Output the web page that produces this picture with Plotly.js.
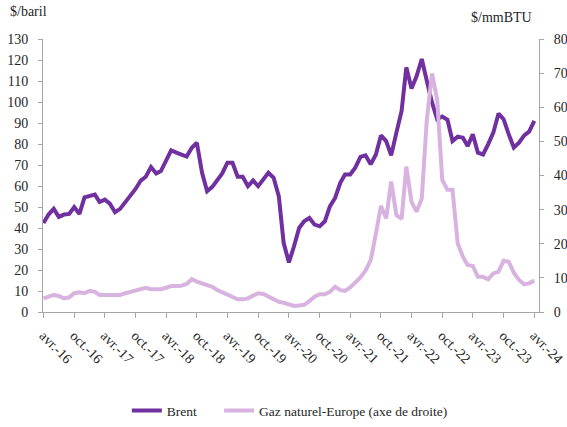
<!DOCTYPE html>
<html>
<head>
<meta charset="utf-8">
<script src="https://cdn.plot.ly/plotly-3.0.1.min.js"></script>
<style>html,body{margin:0;padding:0;background:#fff;overflow:hidden;}#chart{width:567px;height:427px;}</style>
</head>
<body>
<div id="chart"></div>
<script>
// Monthly series, avr. 2016 -> avr. 2024
var startYear = 2016, startMonth = 4, nMonths = 97;
var months = [];
for (var k = 0; k < nMonths; k++) {
  var m = startMonth - 1 + k;
  var yy = startYear + Math.floor(m / 12);
  var mm = (m % 12) + 1;
  months.push(yy + '-' + (mm < 10 ? '0' + mm : mm) + '-01');
}

var brent = [42.4, 46.4, 49.1, 45.3, 46.4, 46.7, 50.0, 46.7, 54.6, 55.4,
             55.9, 52.4, 53.5, 51.6, 47.5, 49.1, 52.2, 55.9, 58.6, 62.6,
             64.4, 69.0, 66.0, 67.1, 72.2, 77.0, 75.9, 75.0, 74.0, 78.2,
             80.6, 66.3, 57.5, 59.6, 63.4, 66.0, 71.1, 71.1, 64.4, 64.4,
             59.9, 62.6, 59.9, 63.1, 66.3, 63.9, 55.1, 32.8, 23.6, 31.2,
             40.0, 43.2, 44.8, 41.6, 40.8, 43.2, 50.3, 54.3, 61.5, 65.5,
             65.5, 68.7, 73.9, 74.6, 70.3, 75.0, 84.1, 81.4, 74.6, 85.4,
             95.7, 116.5, 106.4, 112.2, 120.5, 110.1, 99.8, 91.8, 93.1, 91.5,
             81.4, 83.5, 83.0, 79.0, 84.6, 75.9, 75.0, 79.8, 85.4, 94.5,
             91.8, 84.6, 78.3, 80.6, 84.1, 85.9, 91.0];

var gazEurope = [4.0, 4.5, 5.0, 4.7, 4.0, 4.3, 5.5, 5.8, 5.5, 6.2,
                 5.9, 5.0, 5.0, 5.0, 5.0, 5.0, 5.5, 5.9, 6.2, 6.6,
                 7.1, 6.7, 6.7, 6.7, 7.1, 7.6, 7.6, 7.7, 8.2, 9.6,
                 8.9, 8.4, 8.1, 7.4, 6.4, 5.7, 5.2, 4.5, 3.7, 3.7,
                 4.0, 4.8, 5.5, 5.3, 4.5, 3.5, 3.0, 2.7, 2.3, 1.8,
                 1.9, 2.1, 3.2, 4.5, 5.2, 5.2, 5.9, 7.4, 6.4, 6.2,
                 7.2, 8.7, 10.1, 12.1, 15.2, 23.0, 31.1, 27.4, 38.2, 28.4,
                 27.3, 42.6, 32.3, 29.4, 33.3, 56.3, 69.9, 62.1, 38.7, 35.8,
                 35.8, 20.1, 16.2, 13.8, 13.5, 10.3, 10.3, 9.6, 11.3, 11.8,
                 15.0, 14.7, 11.5, 9.4, 8.1, 8.4, 9.2];

var tickDates = ['2016-04-01','2016-10-01','2017-04-01','2017-10-01','2018-04-01','2018-10-01',
                 '2019-04-01','2019-10-01','2020-04-01','2020-10-01','2021-04-01','2021-10-01',
                 '2022-04-01','2022-10-01','2023-04-01','2023-10-01','2024-04-01'];
var tickLabels = ['avr.-16','oct.-16','avr.-17','oct.-17','avr.-18','oct.-18',
                  'avr.-19','oct.-19','avr.-20','oct.-20','avr.-21','oct.-21',
                  'avr.-22','oct.-22','avr.-23','oct.-23','avr.-24'];

var FONT = 'Liberation Serif';
var TXT = '#262626';
var AX = '#a6a6a6';

var traces = [
  {x: months, y: brent, type: 'scatter', mode: 'lines', name: 'Brent',
   line: {color: '#7030A0', width: 4}, yaxis: 'y', legend: 'legend'},
  {x: months, y: gazEurope, type: 'scatter', mode: 'lines', name: 'Gaz naturel-Europe (axe de droite)',
   line: {color: '#D9B3E0', width: 4}, yaxis: 'y2', legend: 'legend2'}
];

var legendFont = {family: FONT, size: 13.5, color: TXT};

var layout = {
  width: 567, height: 427, autosize: false,
  margin: {l: 43, r: 28, t: 39, b: 115, pad: 0, autoexpand: false},
  paper_bgcolor: '#fff', plot_bgcolor: '#fff',
  font: {family: FONT, size: 14, color: TXT},
  showlegend: true,
  legend: {orientation: 'h', x: 0.169, xanchor: 'left', y: -0.305, yanchor: 'top', font: legendFont},
  legend2: {orientation: 'h', x: 0.355, xanchor: 'left', y: -0.305, yanchor: 'top', font: legendFont},
  xaxis: {type: 'date', range: ['2016-03-29', '2024-04-29'], automargin: false,
          tickmode: 'array', tickvals: tickDates, ticktext: tickLabels,
          tickangle: 45, ticks: 'outside', ticklen: 5, tickcolor: AX, ticklabelstandoff: 4,
          showline: true, linecolor: AX, linewidth: 1, showgrid: false, zeroline: false,
          tickfont: {family: FONT, size: 14, color: TXT}},
  yaxis: {range: [0, 130], dtick: 10, tick0: 0, ticks: 'outside', ticklen: 4, tickcolor: AX,
          automargin: false, ticklabelstandoff: 7,
          showline: true, linecolor: AX, linewidth: 1, showgrid: false, zeroline: false,
          tickfont: {family: FONT, size: 14, color: TXT}},
  yaxis2: {range: [0, 80], dtick: 10, tick0: 0, overlaying: 'y', side: 'right',
           automargin: false, ticklabelstandoff: 7,
           ticks: 'outside', ticklen: 4, tickcolor: AX,
           showline: true, linecolor: AX, linewidth: 1, showgrid: false, zeroline: false,
           tickfont: {family: FONT, size: 14, color: TXT}},
  annotations: [
    {text: '$/baril', xref: 'paper', yref: 'paper', x: -0.07, y: 1.1, xanchor: 'left', yanchor: 'middle',
     showarrow: false, font: {family: FONT, size: 14, color: TXT}},
    {text: '$/mmBTU', xref: 'paper', yref: 'paper', x: 0.99, y: 1.08, xanchor: 'right', yanchor: 'middle',
     showarrow: false, font: {family: FONT, size: 14, color: TXT}}
  ]
};

Plotly.newPlot('chart', traces, layout, {displayModeBar: false, staticPlot: true});
</script>
</body>
</html>
